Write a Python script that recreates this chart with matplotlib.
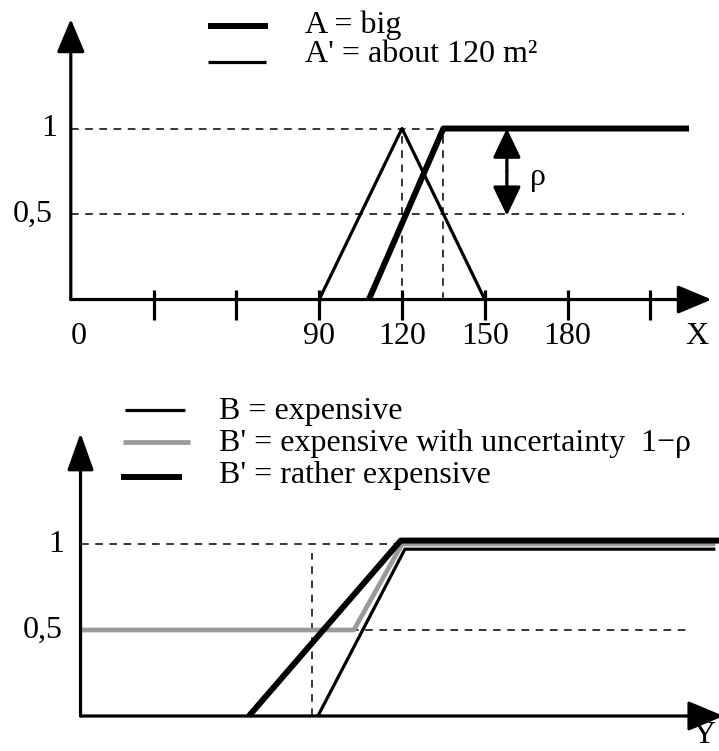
import matplotlib
matplotlib.use("Agg")
import matplotlib.pyplot as plt

plt.rcParams['font.family'] = ['Liberation Serif', 'DejaVu Serif']
plt.rcParams['font.size'] = 23
plt.rcParams['lines.solid_capstyle'] = 'butt'

# top panel: A = big, A' = about 120 m2
a_x = [108, 135, 224]
a_y = [0, 1, 1]
a2_x = [90, 120, 150]
a2_y = [0, 1, 0]
x_ticks = [30, 60, 90, 120, 150, 180, 210]
x_labels = [0, 90, 120, 150, 180]
rho_x = 158

# bottom panel: B = expensive and the two B'
b_x = [86, 117.5, 230]
b_y = [0, 0.97, 0.97]
bu_x = [0, 99, 116.5, 230]
bu_y = [0.5, 0.5, 1.0, 1.0]
br_x = [61, 116, 232]
br_y = [0, 1.02, 1.02]
b_cut = 84

GRAY = '#9a9a9a'
DASH = dict(color='k', lw=1.1, ls=(0, (5, 4.3)))
THIN, THICK = 2.3, 4.3

fig = plt.figure(figsize=(7.19, 7.51), dpi=100)

def arrow(ax, start, tip, hl, hw, style='-|>'):
    ax.annotate('', xy=tip, xytext=start, annotation_clip=False,
                arrowprops=dict(arrowstyle=f'{style},head_length={hl},head_width={hw}',
                                mutation_scale=1, lw=THIN, color='k',
                                shrinkA=0, shrinkB=0))

# ---------- top ----------
ax = fig.add_axes([0, 0, 1, 1])
ax.set_xlim(-25.65, 234.86)
ax.set_ylim(-2.64, 1.7515)
ax.axis('off')

ax.plot([0, 135], [1, 1], **DASH)
ax.plot([0, 222], [0.5, 0.5], **DASH)
ax.plot([120, 120], [0, 1], **DASH)
ax.plot([135, 135], [0, 1], **DASH)

ax.plot(a2_x, a2_y, color='k', lw=THIN)
ax.plot(a_x, a_y, color='k', lw=THICK)

ax.vlines(x_ticks, -0.117, 0.058, color='k', lw=THIN)
arrow(ax, (0, 0), (232.2, 0), 21, 8.8)
arrow(ax, (0, 0), (0, 1.64), 20.5, 8.6)
arrow(ax, (rho_x, 0.75), (rho_x, 1.0), 18, 8.6)
arrow(ax, (rho_x, 0.75), (rho_x, 0.49), 18, 8.6)
ax.text(166.4, 0.713, 'ρ', ha='left', va='center')

for v in x_labels:
    ax.text(v, -0.219, str(v), ha='left' if v == 0 else 'center', va='center')
ax.text(226.9, -0.219, 'X', ha='center', va='center')
ax.text(-5, 1, '1', ha='right', va='center')
ax.text(-6.5, 0.5, '0,5', ha='right', va='center')

ax.plot([49.7, 71.4], [1.6, 1.6], color='k', lw=THICK)
ax.plot([49.7, 70.7], [1.389, 1.389], color='k', lw=THIN)
ax.text(84.9, 1.558, 'A = big', ha='left', va='baseline')
ax.text(84.9, 1.389, "A' = about 120 m²", ha='left', va='baseline')

# ---------- bottom ----------
bx = fig.add_axes([0, 0, 1, 1])
bx.set_xlim(-29.17, 231.3)
bx.set_ylim(-0.2035, 4.163)
bx.axis('off')
bx.patch.set_alpha(0)

bx.plot([0, 116], [1, 1], **DASH)
bx.plot([0, 221], [0.5, 0.5], **DASH)
bx.plot([b_cut, b_cut], [0, 0.95], **DASH)

bx.plot(b_x, b_y, color='k', lw=THIN)
bx.plot(bu_x, bu_y, color=GRAY, lw=3.4)
bx.plot(br_x, br_y, color='k', lw=THICK)

arrow(bx, (0, 0), (233, 0), 22, 9.2)
arrow(bx, (0, 0), (0, 1.645), 23, 8.2)

bx.text(-6, 1, '1', ha='right', va='center')
bx.text(-6.5, 0.5, '0,5', ha='right', va='center')
bx.text(230, -0.155, 'Y', ha='right', va='baseline')

bx.plot([16.1, 37.9], [1.779, 1.779], color='k', lw=THIN)
bx.plot([15.4, 39.7], [1.591, 1.591], color=GRAY, lw=3.4)
bx.plot([14.7, 36.8], [1.391, 1.391], color='k', lw=THICK)
bx.text(50.3, 1.727, 'B = expensive', ha='left', va='baseline')
bx.text(50.3, 1.542, "B' = expensive with uncertainty  1−ρ", ha='left', va='baseline')
bx.text(50.3, 1.356, "B' = rather expensive", ha='left', va='baseline')

fig.savefig('out.png', dpi=100)
